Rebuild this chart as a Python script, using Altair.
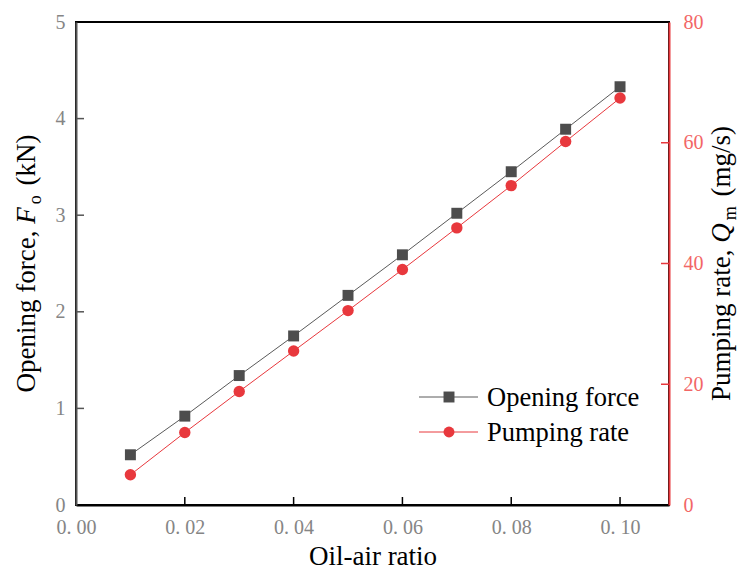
import altair as alt
import pandas as pd

# ---- data ----
oil_air_ratio = [0.01, 0.02, 0.03, 0.04, 0.05, 0.06, 0.07, 0.08, 0.09, 0.10]
opening_force = [0.52, 0.92, 1.34, 1.75, 2.17, 2.59, 3.02, 3.45, 3.89, 4.33]
pumping_rate = [5.0, 12.0, 18.8, 25.5, 32.2, 39.0, 45.9, 52.9, 60.2, 67.4]
series_names = ["Opening force", "Pumping rate"]
x_ticks = [0.0, 0.02, 0.04, 0.06, 0.08, 0.10]
force_ticks = [0, 1, 2, 3, 4, 5]
rate_ticks = [0, 20, 40, 60, 80]
x_title = "Oil-air ratio"
left_title_parts = ["Opening force,", "F", "o", "(kN)"]
right_title_parts = ["Pumping rate,", "Q", "m", "(mg/s)"]

# ---- style ----
W, H = 593, 483
FONT = "Liberation Serif"
GREY_AX = "#555555"
GREY_LBL = "#858585"
F_COLOR = "#4d4d4d"
F_LINE = "#5a5a5a"
R_COLOR = "#e8383d"
R_LBL = "#f26666"
TITLE_SIZE = 27
SUB_SIZE = 18
LBL_SIZE = 20

# Times-compatible advance widths (per 1000 em) for measuring title pieces
TW = {" ": 250, "(": 333, ")": 333, ",": 250, "/": 278, "O": 722, "P": 556, "Q": 722,
      "F": 611, "k": 500, "N": 722, "a": 444, "c": 444, "e": 444, "f": 333, "g": 500,
      "i": 278, "m": 778, "n": 500, "o": 500, "p": 500, "r": 333, "s": 389, "t": 278,
      "u": 500, "l": 278, "-": 333}


def tw(s, size):
    return sum(TW.get(ch, 500) for ch in s) * size / 1000.0


df = pd.DataFrame({"ratio": oil_air_ratio, "force": opening_force, "rate": pumping_rate})

xs = alt.Scale(domain=[0, 0.109], nice=False, zero=False)
fs = alt.Scale(domain=[0, 5], nice=False)
rs = alt.Scale(domain=[0, 80], nice=False)

x_axis = alt.Axis(values=x_ticks, format=".2f", labelExpr="replace(datum.label, '.', '. ')",
                  tickSize=0, domainColor="black", domainWidth=2, labelColor=GREY_LBL,
                  labelFont=FONT, labelFontSize=LBL_SIZE, labelPadding=12, title=x_title,
                  titleFont=FONT, titleFontSize=TITLE_SIZE, titleFontWeight="normal",
                  titleColor="black", titlePadding=6, grid=False, labelFlush=False)
xenc = alt.X("ratio:Q", scale=xs, axis=x_axis)

left_axis = alt.Axis(values=force_ticks, tickSize=0, domainColor=GREY_AX, domainWidth=2,
                     labelColor=GREY_LBL, labelFont=FONT, labelFontSize=LBL_SIZE,
                     labelPadding=11, title=None, grid=False)
right_axis = alt.Axis(values=rate_ticks, orient="right", tickSize=0, domainColor=R_COLOR,
                      domainWidth=2, labelColor=R_LBL, labelFont=FONT, labelFontSize=LBL_SIZE,
                      labelPadding=14, title=None, grid=False)

base = alt.Chart(df)

force_line = base.mark_line(color=F_LINE, strokeWidth=1).encode(
    x=xenc, y=alt.Y("force:Q", scale=fs, axis=left_axis))
force_pts = base.mark_point(shape="square", filled=True, opacity=1, color=F_COLOR, size=120).encode(
    x=xenc, y=alt.Y("force:Q", scale=fs, axis=left_axis))

ltick_df = pd.DataFrame({"force": force_ticks[1:-1]})
left_ticks = alt.Chart(ltick_df).mark_rule(color=GREY_AX, strokeWidth=1.5).encode(
    x=alt.value(0), x2=alt.value(8), y=alt.Y("force:Q", scale=fs, axis=left_axis))

xtick_df = pd.DataFrame({"ratio": x_ticks[1:]})
x_tick_rules = alt.Chart(xtick_df).mark_rule(color="black", strokeWidth=1.5).encode(
    x=xenc, y=alt.value(H), y2=alt.value(H - 8))


# rotated y-axis titles built from pieces (italic symbol + subscript)
def rotated_title(parts, base_x, center_y):
    main, sym, sub, tail = parts
    sp = tw(" ", TITLE_SIZE)
    segs = [(main, "normal", TITLE_SIZE, 0, 0),
            (sym, "italic", TITLE_SIZE, 0, sp),
            (sub, "normal", SUB_SIZE, 6, 3),
            (tail, "normal", TITLE_SIZE, 0, sp + 3)]
    total = sum(tw(s, sz) + g for s, st, sz, d, g in segs)
    pos = center_y + total / 2.0
    layers = []
    for s, st, sz, d, g in segs:
        pos -= g
        tdf = pd.DataFrame({"txt": [s]})
        layers.append(alt.Chart(tdf).mark_text(
            align="left", baseline="alphabetic", angle=270, font=FONT, fontSize=sz,
            fontStyle=st, color="black", dy=d).encode(
            x=alt.value(base_x), y=alt.value(pos), text="txt:N"))
        pos -= tw(s, sz)
    return layers


title_layers = rotated_title(left_title_parts, 35 - 76, H / 2.0) + \
    rotated_title(right_title_parts, 730 - 76, H / 2.0)

# legend (manual)
leg_layers = []
markers = [("square", F_COLOR, F_LINE), ("circle", R_COLOR, R_COLOR)]
for i, name in enumerate(series_names):
    ldf = pd.DataFrame({"name": [name]})
    yy = 375 + 35 * i
    shp, col, lcol = markers[i]
    lc = alt.Chart(ldf)
    leg_layers.append(lc.mark_rule(color=lcol, strokeWidth=1).encode(
        x=alt.value(343), x2=alt.value(402), y=alt.value(yy)))
    leg_layers.append(lc.mark_point(shape=shp, filled=True, opacity=1, color=col, size=120).encode(
        x=alt.value(373), y=alt.value(yy)))
    leg_layers.append(lc.mark_text(align="left", baseline="middle", font=FONT, fontSize=26.5,
                                   color="black").encode(
        x=alt.value(411), y=alt.value(yy + 1), text="name:N"))

layer_a = alt.layer(force_line, force_pts, left_ticks, x_tick_rules, *leg_layers, *title_layers)

rate_line = base.mark_line(color=R_COLOR, strokeWidth=1).encode(
    x=xenc, y=alt.Y("rate:Q", scale=rs, axis=right_axis))
rate_pts = base.mark_point(shape="circle", filled=True, opacity=1, color=R_COLOR, size=130).encode(
    x=xenc, y=alt.Y("rate:Q", scale=rs, axis=right_axis))
rtick_df = pd.DataFrame({"rate": rate_ticks[1:-1]})
right_ticks = alt.Chart(rtick_df).mark_rule(color=R_COLOR, strokeWidth=1.5).encode(
    x=alt.value(W - 8), x2=alt.value(W), y=alt.Y("rate:Q", scale=rs, axis=right_axis))

layer_b = alt.layer(rate_line, rate_pts, right_ticks)

chart = alt.layer(layer_a, layer_b).resolve_scale(y="independent").properties(
    width=W, height=H,
    autosize=alt.AutoSizeParams(type="none"),
    padding={"left": 76, "top": 22, "right": 72, "bottom": 69},
    background="white",
).configure_view(stroke="black", strokeWidth=2)

chart.save("out.html", embed_options={"renderer": "svg", "actions": False})
